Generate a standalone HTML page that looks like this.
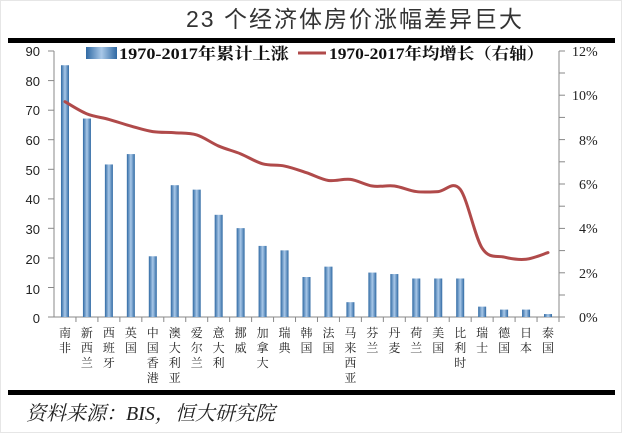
<!DOCTYPE html>
<html><head><meta charset="utf-8"><style>
body{margin:0;background:#fff;}
svg{display:block}
</style></head><body>
<svg width="622" height="433" viewBox="0 0 622 433" xmlns="http://www.w3.org/2000/svg">
<defs>
<linearGradient id="bg" x1="0" x2="1" y1="0" y2="0">
<stop offset="0" stop-color="#2f69a3"/><stop offset="0.5" stop-color="#a9c8e8"/><stop offset="1" stop-color="#2f69a3"/>
</linearGradient>
</defs>
<rect x="0" y="0" width="622" height="433" fill="#fff"/>
<rect x="0.5" y="0.5" width="621" height="432" fill="none" stroke="#e6e6e6"/>
<text x="355" y="27" font-family="Liberation Sans, 'Noto Sans CJK SC', sans-serif" font-size="23" fill="#333" text-anchor="middle" letter-spacing="2">23 个经济体房价涨幅差异巨大</text>
<rect x="8" y="38" width="607" height="5" fill="#000"/>
<rect x="8" y="390" width="607" height="5" fill="#000"/>
<text x="26" y="420" font-family="Liberation Serif, 'Noto Serif CJK SC', serif" font-size="20" font-style="italic" fill="#222">资料来源：BIS，恒大研究院</text>
<g font-family="Liberation Sans, sans-serif" font-size="13" fill="#222" text-anchor="end">
<text x="40" y="56">90</text><text x="40" y="86">80</text><text x="40" y="115">70</text><text x="40" y="145">60</text><text x="40" y="175">50</text><text x="40" y="204">40</text><text x="40" y="234">30</text><text x="40" y="264">20</text><text x="40" y="294">10</text><text x="40" y="323">0</text>
</g>
<g stroke="#888" stroke-width="1">
<line x1="54" y1="51" x2="54" y2="317"/>
<line x1="48" y1="51" x2="54" y2="51"/><line x1="48" y1="80.6" x2="54" y2="80.6"/><line x1="48" y1="110.2" x2="54" y2="110.2"/><line x1="48" y1="139.7" x2="54" y2="139.7"/><line x1="48" y1="169.3" x2="54" y2="169.3"/><line x1="48" y1="198.9" x2="54" y2="198.9"/><line x1="48" y1="228.3" x2="54" y2="228.3"/><line x1="48" y1="258" x2="54" y2="258"/><line x1="48" y1="287.5" x2="54" y2="287.5"/>
<line x1="559" y1="51" x2="559" y2="317"/>
<line x1="559" y1="51" x2="565" y2="51"/><line x1="559" y1="73" x2="565" y2="73"/><line x1="559" y1="95.2" x2="565" y2="95.2"/><line x1="559" y1="117.4" x2="565" y2="117.4"/><line x1="559" y1="139.6" x2="565" y2="139.6"/><line x1="559" y1="161.8" x2="565" y2="161.8"/><line x1="559" y1="184" x2="565" y2="184"/><line x1="559" y1="206.2" x2="565" y2="206.2"/><line x1="559" y1="228.4" x2="565" y2="228.4"/><line x1="559" y1="250.6" x2="565" y2="250.6"/><line x1="559" y1="272.8" x2="565" y2="272.8"/><line x1="559" y1="295" x2="565" y2="295"/>
<line x1="48" y1="317" x2="565" y2="317"/>
</g>
<g stroke="#888" stroke-width="1" id="xt"></g>
<g font-family="Liberation Serif, serif" font-size="14" fill="#222">
<text x="572" y="56">12%</text><text x="572" y="100">10%</text><text x="579" y="145">8%</text><text x="579" y="189">6%</text><text x="579" y="233">4%</text><text x="579" y="278">2%</text><text x="579" y="322">0%</text>
</g>
<g id="bars"></g>
<g id="labels" font-family="'Noto Serif CJK SC', serif" font-size="12" fill="#222" text-anchor="middle"></g>
<path id="ln" fill="none" stroke="#b04a4a" stroke-width="3" stroke-linejoin="round" stroke-linecap="round" d=""/>
<rect x="86" y="47" width="31" height="12" fill="url(#bg)"/>
<text x="119" y="59" font-family="Liberation Serif, 'Noto Serif CJK SC', serif" font-size="16" font-weight="bold" fill="#111" textLength="170" lengthAdjust="spacingAndGlyphs">1970-2017年累计上涨</text>
<line x1="298" y1="53" x2="326" y2="53" stroke="#b04a4a" stroke-width="3"/>
<text x="329" y="59" font-family="Liberation Serif, 'Noto Serif CJK SC', serif" font-size="16" font-weight="bold" fill="#111" textLength="215" lengthAdjust="spacingAndGlyphs">1970-2017年均增长（右轴）</text>
</svg>
<script>
var ns="http://www.w3.org/2000/svg";
var vals=[85,67,51.5,55,20.5,44.5,43,34.5,30,24,22.5,13.5,17,5,15,14.5,13,13,13,3.5,2.5,2.5,1];
var pct=[9.7,9.15,8.9,8.6,8.35,8.3,8.2,7.7,7.35,6.9,6.8,6.5,6.15,6.2,5.9,5.9,5.65,5.65,5.75,3.1,2.7,2.6,2.9];
var names=["南非","新西兰","西班牙","英国","中国香港","澳大利亚","爱尔兰","意大利","挪威","加拿大","瑞典","韩国","法国","马来西亚","芬兰","丹麦","荷兰","美国","比利时","瑞士","德国","日本","泰国"];
var w=(559-54)/23,P=[];
var bars=document.getElementById("bars"),lab=document.getElementById("labels"),xt=document.getElementById("xt");
for(var i=0;i<23;i++){
 var cx=54+w*(i+0.5);
 var h=vals[i]*2.962;
 var r=document.createElementNS(ns,"rect");
 r.setAttribute("x",cx-4);r.setAttribute("y",317-h);r.setAttribute("width",8);r.setAttribute("height",h);r.setAttribute("fill","url(#bg)");
 bars.appendChild(r);
 var t=document.createElementNS(ns,"line");
 t.setAttribute("x1",54+w*(i+1));t.setAttribute("x2",54+w*(i+1));t.setAttribute("y1",317);t.setAttribute("y2",322);
 xt.appendChild(t);
 for(var j=0;j<names[i].length;j++){
  var tx=document.createElementNS(ns,"text");
  tx.setAttribute("x",cx);tx.setAttribute("y",337+j*15);tx.textContent=names[i][j];
  lab.appendChild(tx);
 }
 P.push([cx,317-pct[i]*22.2]);
}
var d="M"+P[0][0]+","+P[0][1];
for(var k=0;k<P.length-1;k++){
 var p0=P[Math.max(k-1,0)],p1=P[k],p2=P[k+1],p3=P[Math.min(k+2,P.length-1)];
 var c1=[p1[0]+(p2[0]-p0[0])/6,p1[1]+(p2[1]-p0[1])/6],c2=[p2[0]-(p3[0]-p1[0])/6,p2[1]-(p3[1]-p1[1])/6];
 d+=" C"+c1+" "+c2+" "+p2;
}
document.getElementById("ln").setAttribute("d",d);
</script>
</body></html>
